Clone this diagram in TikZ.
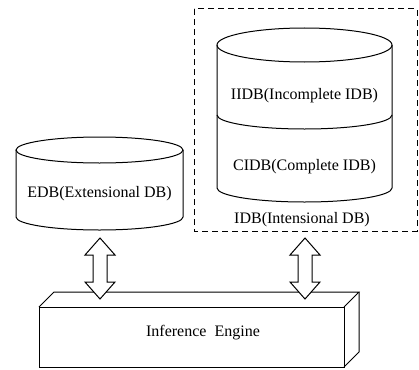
\documentclass[tikz,border=0pt]{standalone}
\usepackage{fontspec}
\setmainfont{Liberation Serif}
\usetikzlibrary{calc}
\newcommand{\dblarr}[2]{%
  \draw[dblarrow] (#1) -- ++(15,17) -- ++(-8,0) -- ($(#2)+(7,-17)$) -- ++(8,0) -- (#2)
    -- ++(-15,-17) -- ++(8,0) -- ($(#1)+(-7,17)$) -- ++(-8,0) -- cycle;}
\begin{document}
\begin{tikzpicture}[x=1pt,y=-1pt,line width=1pt,
  lbl/.style={font=\fontsize{16}{19}\selectfont,inner sep=0pt},
  dblarrow/.style={draw,fill=white,line join=miter},
  grp/.style={draw,dash pattern=on 6pt off 4pt}]
\useasboundingbox (0,0) rectangle (419,369);
% dashed group box
\draw[grp] (194,9) rectangle (417,231);
% EDB cylinder
\draw (16,150) -- (16,217) arc[start angle=180,end angle=0,x radius=83.5,y radius=13] -- (183,150);
\draw (99.5,150) ellipse[x radius=83.5,y radius=13];
\node[lbl] (edb) at (99.5,194) {EDB(Extensional DB)};
% IDB cylinder
\draw (217,45) -- (217,188) arc[start angle=180,end angle=0,x radius=87.5,y radius=14] -- (392,45);
\draw (304.5,45) ellipse[x radius=87.5,y radius=17];
\draw (217,115) arc[start angle=180,end angle=0,x radius=87.5,y radius=14];
\node[lbl] (iidb) at (304.5,96) {IIDB(Incomplete IDB)};
\node[lbl] (cidb) at (304.5,167) {CIDB(Complete IDB)};
\node[lbl] (idb) at (302,220) {IDB(Intensional DB)};
% Inference engine box
\draw (39,307) rectangle (344,367);
\draw (39,307) -- (54,292) -- (359,292) -- (344,307);
\draw (344,367) -- (359,352) -- (359,292);
\node[lbl] (ie) at (203,333) {Inference\ \ Engine};
% double arrows
\coordinate (a1t) at (100,238);
\coordinate (a1b) at (100,299);
\coordinate (a2t) at (305,238);
\coordinate (a2b) at (305,299);
\dblarr{a1t}{a1b}
\dblarr{a2t}{a2b}
\end{tikzpicture}
\end{document}
